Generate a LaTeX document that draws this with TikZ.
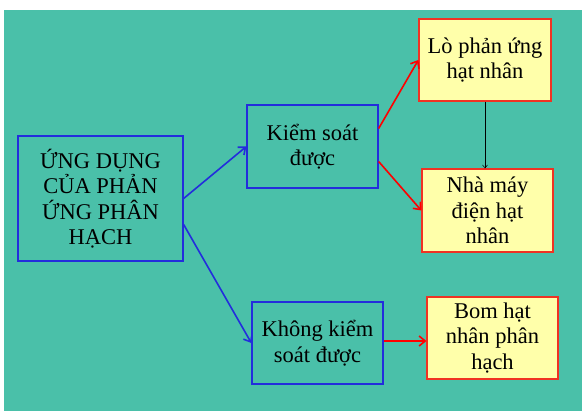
\documentclass[tikz,border=0pt]{standalone}
\usepackage{fontspec}
\setmainfont{Liberation Serif}
\usetikzlibrary{arrows.meta,positioning,calc}
\definecolor{bgteal}{RGB}{74,192,169}
\definecolor{boxblue}{RGB}{35,45,220}
\definecolor{boxred}{RGB}{240,50,35}
\definecolor{paleyel}{RGB}{255,255,170}
\tikzset{box/.style={draw=boxblue,line width=1.3pt,align=center,inner sep=0pt,
    minimum width=131pt,minimum height=82pt,font=\fontsize{22.5}{25.5}\selectfont},
  result/.style={box,draw=boxred,fill=paleyel},
  blueflow/.style={-{Straight Barb[length=6pt,width=10pt]},draw=boxblue,line width=1.6pt},
  redflow/.style={-{Straight Barb[length=6pt,width=10pt]},draw=red,line width=1.6pt},
  thinflow/.style={-{Straight Barb[length=3pt,width=5pt]},draw=black,line width=0.5pt}}

\begin{document}
\begin{tikzpicture}[x=1pt,y=-1pt]
\useasboundingbox (0,0) rectangle (582,414);
\fill[bgteal] (4,10) rectangle (582,411);
\node[box,minimum width=165pt,minimum height=125pt] (app) at (100.5,198.5)
 {ỨNG DỤNG\\CỦA PHẢN\\ỨNG PHÂN\\HẠCH};
\node[box,minimum height=83pt] (kiem) at (312.5,146.5) {Kiểm soát\\được};
\node[box] (khong) at (317.5,343) {Không kiểm\\soát được};
\node[result,minimum width=132pt] (lo) at (485,60) {Lò phản ứng\\hạt nhân};
\node[result,minimum height=83pt] (nha) at (487.5,210.5) {Nhà máy\\điện hạt\\nhân};
\node[result] (bom) at (492.5,338) {Bom hạt\\nhân phân\\hạch};
\draw[blueflow] (app.east) -- (kiem.west);
\draw[blueflow] ([yshift=-26pt]app.east) -- (khong.west);
\draw[redflow] ([yshift=18pt]kiem.east) -- (lo.west);
\draw[redflow] ([yshift=-15pt]kiem.east) -- (nha.west);
\draw[redflow] ([yshift=2pt]khong.east) -- ([yshift=2pt]khong.east -| bom.west);
\draw[thinflow] (lo.south) -- (lo.south |- nha.north);
\end{tikzpicture}
\end{document}
